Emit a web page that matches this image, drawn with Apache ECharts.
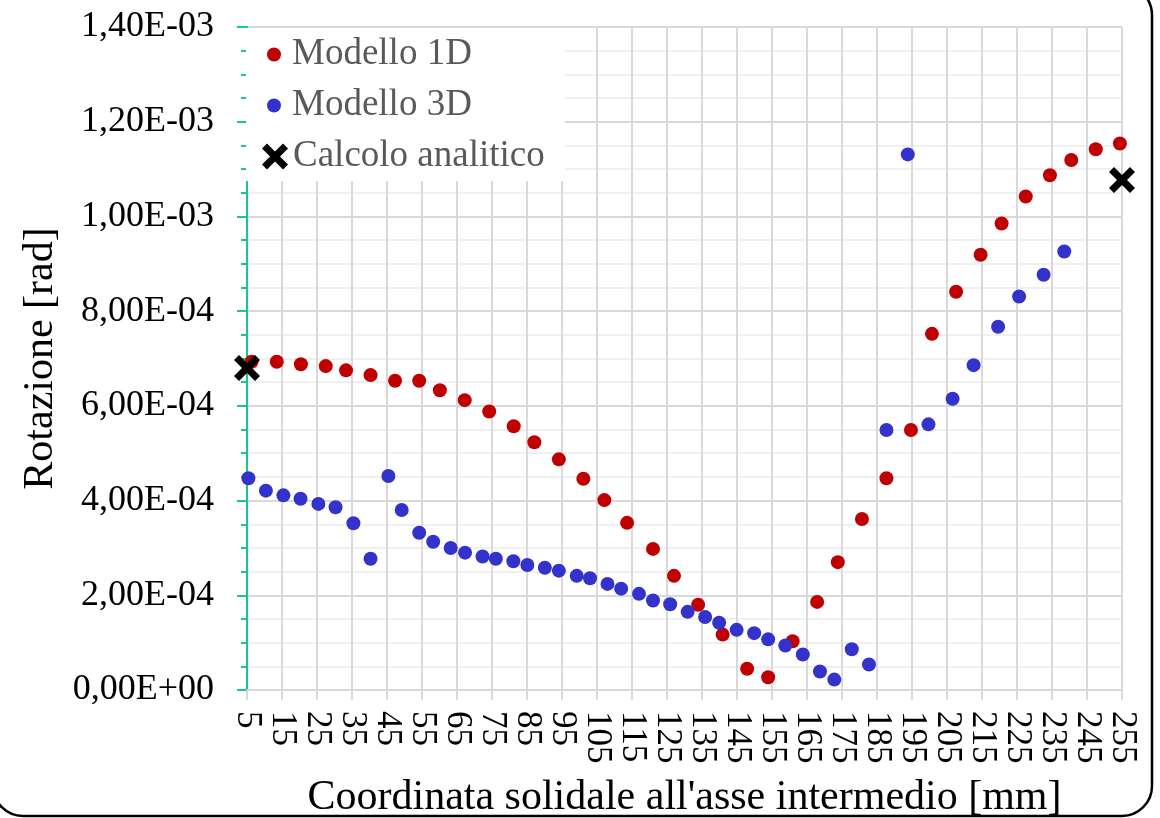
<!DOCTYPE html>
<html>
<head>
<meta charset="utf-8">
<script src="https://cdn.jsdelivr.net/npm/echarts@6/dist/echarts.min.js"></script>
<style>
  html, body { margin: 0; padding: 0; background: #ffffff; }
  #chart { width: 1160px; height: 818px; }
</style>
</head>
<body>
<div id="chart"></div>
<script>
// Rotation along the intermediate shaft: 1D model, 3D model and analytic check values
const seriesNames = ['Modello 1D', 'Modello 3D', 'Calcolo analitico'];

const x1D = [6.3, 13.5, 20.4, 27.5, 33.3, 40.3, 47.3, 54.2, 60.1, 67.2, 74.2, 81.2, 87.1, 94.1,
  101.1, 107.1, 113.6, 121.0, 127.0, 133.9, 140.9, 147.9, 153.9, 160.9, 167.9, 173.8, 180.7,
  187.7, 194.7, 200.7, 207.6, 214.6, 220.6, 227.5, 234.4, 240.5, 247.5, 254.4];
const y1D = [6.93e-4, 6.93e-4, 6.88e-4, 6.84e-4, 6.75e-4, 6.65e-4, 6.53e-4, 6.53e-4, 6.33e-4,
  6.12e-4, 5.88e-4, 5.57e-4, 5.23e-4, 4.87e-4, 4.46e-4, 4.01e-4, 3.53e-4, 2.98e-4, 2.41e-4,
  1.80e-4, 1.17e-4, 0.45e-4, 0.27e-4, 1.03e-4, 1.86e-4, 2.70e-4, 3.61e-4, 4.47e-4, 5.49e-4,
  7.52e-4, 8.41e-4, 9.19e-4, 9.85e-4, 10.42e-4, 10.87e-4, 11.19e-4, 11.42e-4, 11.54e-4];

const x3D = [5.4, 10.4, 15.4, 20.3, 25.4, 30.3, 35.4, 40.3, 45.4, 49.2, 54.2, 58.2, 63.2, 67.3,
  72.3, 76.1, 81.1, 85.1, 90.1, 94.1, 99.2, 103.0, 108.0, 111.9, 117.0, 121.0, 125.9, 130.9,
  135.9, 139.9, 144.9, 149.9, 153.9, 158.8, 163.8, 168.7, 172.8, 177.8, 182.7, 187.7, 193.8,
  199.7, 206.6, 212.6, 219.6, 225.6, 232.6, 238.5];
const y3D = [4.47e-4, 4.21e-4, 4.11e-4, 4.04e-4, 3.93e-4, 3.86e-4, 3.52e-4, 2.77e-4, 4.52e-4,
  3.80e-4, 3.32e-4, 3.13e-4, 3.00e-4, 2.90e-4, 2.82e-4, 2.77e-4, 2.72e-4, 2.64e-4, 2.58e-4,
  2.52e-4, 2.41e-4, 2.36e-4, 2.24e-4, 2.14e-4, 2.03e-4, 1.89e-4, 1.81e-4, 1.65e-4, 1.54e-4,
  1.42e-4, 1.27e-4, 1.20e-4, 1.07e-4, 0.94e-4, 0.75e-4, 0.39e-4, 0.22e-4, 0.86e-4, 0.54e-4,
  5.49e-4, 11.31e-4, 5.61e-4, 6.15e-4, 6.86e-4, 7.67e-4, 8.31e-4, 8.77e-4, 9.26e-4];

const xAnalytic = [5, 255];
const yAnalytic = [6.80e-4, 10.77e-4];

const xAxisTitle = "Coordinata solidale all'asse intermedio [mm]";
const yAxisTitle = 'Rotazione [rad]';

const FONT = 'Liberation Serif, Times New Roman, serif';
const CROSS = 'path://M0,5L5,0L13,8L21,0L26,5L18,13L26,21L21,26L13,18L5,26L0,21L8,13Z';

function pairs(xs, ys) {
  return xs.map((x, i) => [x, ys[i]]);
}

// Excel-like scientific labels with a decimal comma, e.g. 1,40E-03
function sciLabel(v) {
  if (Math.abs(v) < 1e-12) return '0,00E+00';
  const parts = v.toExponential(2).split('e');
  const n = parseInt(parts[1], 10);
  return parts[0].replace('.', ',') + 'E' + (n < 0 ? '-' : '+') + String(Math.abs(n)).padStart(2, '0');
}

const chart = echarts.init(document.getElementById('chart'), null, { renderer: 'canvas' });

const legendText = { fontSize: 37, fontFamily: FONT, color: '#595959' };

chart.setOption({
  animation: false,
  backgroundColor: '#ffffff',
  grid: { left: 247, right: 38, top: 27, bottom: 128, containLabel: false, outerBoundsMode: 'none' },
  xAxis: {
    type: 'value',
    min: 5,
    max: 255,
    interval: 10,
    name: xAxisTitle,
    nameLocation: 'middle',
    nameGap: 87,
    nameTextStyle: { fontSize: 42, fontFamily: FONT, color: '#000000' },
    axisLine: { show: true, onZero: false, lineStyle: { color: '#D9D9D9', width: 2 } },
    axisTick: { show: true, length: 10, lineStyle: { color: '#D9D9D9', width: 2 } },
    axisLabel: { rotate: -90, fontSize: 35, fontFamily: FONT, color: '#000000', margin: 21 },
    splitLine: { show: true, lineStyle: { color: '#D9D9D9', width: 2 } }
  },
  yAxis: {
    type: 'value',
    min: 0,
    max: 0.0014,
    interval: 0.0002,
    name: yAxisTitle,
    nameLocation: 'middle',
    nameGap: 185,
    nameTextStyle: { fontSize: 42, fontFamily: FONT, color: '#000000' },
    axisLine: { show: true, onZero: false, lineStyle: { color: '#14C896', width: 2 } },
    axisTick: { show: true, length: 10, lineStyle: { color: '#14C896', width: 2 } },
    minorTick: { show: true, splitNumber: 4, length: 6, lineStyle: { color: '#14C896', width: 2 } },
    axisLabel: { formatter: sciLabel, fontSize: 36, fontFamily: FONT, color: '#000000', margin: 33 },
    splitLine: { show: true, lineStyle: { color: '#D9D9D9', width: 2 } },
    minorSplitLine: { show: true, lineStyle: { color: '#F0F0F0', width: 2 } }
  },
  legend: [
    {
      data: [
        { name: seriesNames[0], icon: 'circle' },
        { name: seriesNames[1], icon: 'circle' }
      ],
      orient: 'vertical',
      left: 267,
      top: 36,
      padding: 0,
      itemWidth: 26,
      itemHeight: 14,
      itemGap: 14,
      textStyle: legendText,
      z: 10
    },
    {
      data: [{ name: seriesNames[2], icon: CROSS }],
      orient: 'vertical',
      left: 262,
      top: 138,
      padding: 0,
      itemWidth: 26,
      itemHeight: 26,
      textStyle: legendText,
      z: 10
    }
  ],
  graphic: [
    {
      // white panel behind the legend
      type: 'rect',
      silent: true,
      z: 5,
      shape: { x: 246, y: 28, width: 319, height: 153 },
      style: { fill: '#ffffff' }
    },
    {
      // rounded chart frame
      type: 'rect',
      silent: true,
      z: 20,
      shape: { x: -7, y: -15, width: 1159, height: 831, r: 30 },
      style: { fill: 'none', stroke: '#000000', lineWidth: 2.5 }
    }
  ],
  series: [
    {
      name: seriesNames[0],
      type: 'scatter',
      symbol: 'circle',
      symbolSize: 14,
      itemStyle: { color: '#C00000', opacity: 1 },
      emphasis: { disabled: true },
      data: pairs(x1D, y1D)
    },
    {
      name: seriesNames[1],
      type: 'scatter',
      symbol: 'circle',
      symbolSize: 14,
      itemStyle: { color: '#3333CC', opacity: 1 },
      emphasis: { disabled: true },
      data: pairs(x3D, y3D)
    },
    {
      name: seriesNames[2],
      type: 'scatter',
      symbol: CROSS,
      symbolSize: 26,
      itemStyle: { color: '#000000', opacity: 1 },
      emphasis: { disabled: true },
      data: pairs(xAnalytic, yAnalytic)
    }
  ]
});
</script>
</body>
</html>
